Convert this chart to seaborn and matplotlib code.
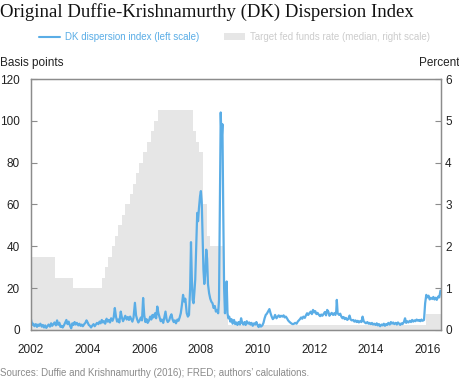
import numpy as np
import pandas as pd
import matplotlib
matplotlib.use("Agg")
import matplotlib.pyplot as plt
import seaborn as sns
from matplotlib.lines import Line2D
from matplotlib.patches import Patch

# DK dispersion index, basis points
dk_years = [
    2002.00, 2002.04, 2002.08, 2002.12, 2002.17, 2002.21, 2002.25, 2002.29, 2002.33, 2002.38, 2002.42, 2002.46,
    2002.50, 2002.54, 2002.58, 2002.62, 2002.67, 2002.71, 2002.75, 2002.79, 2002.83, 2002.88, 2002.92, 2002.96,
    2003.00, 2003.04, 2003.08, 2003.12, 2003.17, 2003.21, 2003.25, 2003.29, 2003.33, 2003.38, 2003.42, 2003.46,
    2003.50, 2003.54, 2003.58, 2003.62, 2003.67, 2003.71, 2003.75, 2003.79, 2003.83, 2003.88, 2003.92, 2003.96,
    2004.00, 2004.04, 2004.08, 2004.12, 2004.17, 2004.21, 2004.25, 2004.29, 2004.33, 2004.38, 2004.42, 2004.46,
    2004.50, 2004.54, 2004.58, 2004.62, 2004.67, 2004.71, 2004.75, 2004.79, 2004.83, 2004.88, 2004.92, 2004.96,
    2005.00, 2005.04, 2005.08, 2005.12, 2005.17, 2005.21, 2005.25, 2005.29, 2005.33, 2005.38, 2005.42, 2005.46,
    2005.50, 2005.54, 2005.58, 2005.62, 2005.67, 2005.71, 2005.75, 2005.79, 2005.83, 2005.88, 2005.92, 2005.96,
    2006.00, 2006.04, 2006.08, 2006.12, 2006.17, 2006.21, 2006.25, 2006.29, 2006.33, 2006.38, 2006.42, 2006.46,
    2006.50, 2006.54, 2006.58, 2006.62, 2006.67, 2006.71, 2006.75, 2006.79, 2006.83, 2006.88, 2006.92, 2006.96,
    2007.00, 2007.04, 2007.08, 2007.12, 2007.17, 2007.21, 2007.25, 2007.29, 2007.33, 2007.37, 2007.41, 2007.45,
    2007.50, 2007.54, 2007.58, 2007.62, 2007.65, 2007.68, 2007.71, 2007.74, 2007.77, 2007.80, 2007.83, 2007.87,
    2007.90, 2007.93, 2007.97, 2008.00, 2008.03, 2008.06, 2008.09, 2008.12, 2008.15, 2008.19, 2008.22, 2008.25,
    2008.29, 2008.33, 2008.37, 2008.41, 2008.45, 2008.49, 2008.53, 2008.57, 2008.61, 2008.64, 2008.67, 2008.70,
    2008.73, 2008.76, 2008.79, 2008.82, 2008.85, 2008.88, 2008.91, 2008.94, 2008.97,
    2009.00, 2009.04, 2009.08, 2009.12, 2009.17, 2009.21, 2009.25, 2009.29, 2009.33, 2009.38, 2009.42, 2009.46,
    2009.50, 2009.54, 2009.58, 2009.62, 2009.67, 2009.71, 2009.75, 2009.79, 2009.83, 2009.88, 2009.92, 2009.96,
    2010.00, 2010.04, 2010.08, 2010.12, 2010.17, 2010.21, 2010.25, 2010.29, 2010.33, 2010.38, 2010.42, 2010.46,
    2010.50, 2010.54, 2010.58, 2010.62, 2010.67, 2010.71, 2010.75, 2010.79, 2010.83, 2010.88, 2010.92, 2010.96,
    2011.00, 2011.04, 2011.08, 2011.12, 2011.17, 2011.21, 2011.25, 2011.29, 2011.33, 2011.38, 2011.42, 2011.46,
    2011.50, 2011.54, 2011.58, 2011.62, 2011.67, 2011.71, 2011.75, 2011.79, 2011.83, 2011.88, 2011.92, 2011.96,
    2012.00, 2012.04, 2012.08, 2012.12, 2012.17, 2012.21, 2012.25, 2012.29, 2012.33, 2012.38, 2012.42, 2012.46,
    2012.50, 2012.54, 2012.58, 2012.62, 2012.67, 2012.71, 2012.75, 2012.78, 2012.80, 2012.83, 2012.88, 2012.92,
    2012.96, 2013.00, 2013.04, 2013.08, 2013.12, 2013.17, 2013.21, 2013.25, 2013.29, 2013.33, 2013.38, 2013.42,
    2013.46, 2013.50, 2013.54, 2013.58, 2013.62, 2013.67, 2013.71, 2013.75, 2013.79, 2013.83, 2013.88, 2013.92,
    2013.96, 2014.00, 2014.04, 2014.08, 2014.12, 2014.17, 2014.21, 2014.25, 2014.29, 2014.33, 2014.38, 2014.42,
    2014.46, 2014.50, 2014.54, 2014.58, 2014.62, 2014.67, 2014.71, 2014.75, 2014.79, 2014.83, 2014.88, 2014.92,
    2014.96, 2015.00, 2015.04, 2015.08, 2015.12, 2015.17, 2015.21, 2015.25, 2015.29, 2015.33, 2015.38, 2015.42,
    2015.46, 2015.50, 2015.54, 2015.58, 2015.62, 2015.67, 2015.71, 2015.75, 2015.79, 2015.83, 2015.88, 2015.92,
    2015.96, 2016.00, 2016.04, 2016.08, 2016.12, 2016.17, 2016.21, 2016.25, 2016.29, 2016.33, 2016.38, 2016.42,
    2016.46,
]
dk_values = [
    5.0, 2.5, 3.0, 1.8, 2.8, 1.5, 2.6, 2.0, 3.0, 1.6, 2.4, 1.2,
    2.2, 1.0, 1.8, 2.6, 1.6, 3.2, 2.0, 2.8, 3.6, 2.2, 4.6, 2.5,
    3.5, 1.5, 2.0, 1.2, 2.4, 3.6, 4.8, 2.8, 4.0, 2.0, 0.8, 3.2,
    2.4, 3.8, 2.6, 3.4, 2.2, 3.0, 2.0, 2.6, 1.8, 2.8, 3.4, 4.6,
    3.6, 2.4, 2.0, 1.2, 2.2, 2.8, 1.8, 2.6, 3.4, 2.8, 4.0, 3.2,
    4.8, 3.6, 4.2, 3.0, 5.4, 4.0, 4.8, 3.6, 5.6, 4.4, 6.0, 10.5,
    6.5, 4.0, 5.0, 3.6, 8.8, 6.0, 4.2, 5.4, 6.8, 5.0, 6.2, 4.8,
    6.4, 5.2, 4.0, 5.8, 13.0, 7.0, 5.0, 3.6, 4.4, 6.0, 4.6, 15.3,
    7.0, 3.8, 5.2, 3.4, 4.6, 6.4, 5.0, 7.2, 6.0, 8.0, 5.6, 11.2,
    8.0, 6.0, 4.2, 5.0, 3.4, 6.0, 8.8, 5.0, 3.8, 4.6, 6.4, 7.5,
    5.0, 3.8, 4.6, 3.2, 5.0, 4.4, 6.0, 8.0, 12.0, 16.8, 13.6, 15.0,
    8.0, 6.4, 7.2, 20.0, 42.0, 25.0, 14.4, 12.8, 18.0, 24.0, 38.0, 56.0,
    52.0, 58.0, 64.0, 66.4, 61.0, 45.0, 28.8, 22.0, 26.0, 38.4, 34.0, 22.0,
    17.6, 15.0, 13.5, 12.8, 10.5, 11.5, 8.8, 9.6, 8.0, 14.4, 60.0, 104.0,
    90.0, 98.4, 56.0, 20.0, 8.0, 14.0, 23.2, 8.0, 5.6,
    6.4, 4.0, 5.2, 3.0, 4.8, 2.8, 3.6, 2.4, 3.8, 2.6, 5.6, 3.4,
    2.6, 3.8, 2.4, 4.2, 3.0, 3.6, 2.6, 3.4, 2.0, 3.2, 2.6, 3.8,
    2.4, 1.4, 2.6, 1.6, 2.2, 3.4, 5.6, 7.2, 7.8, 9.0, 10.0, 8.0,
    6.4, 5.2, 5.8, 7.2, 5.6, 6.4, 7.0, 6.2, 6.8, 6.4, 7.0, 6.0,
    6.4, 5.6, 4.6, 4.0, 3.4, 3.0, 2.8, 3.0, 3.4, 3.0, 4.0, 4.6,
    5.2, 6.0, 5.4, 6.4, 5.8, 7.0, 8.0, 7.2, 8.0, 8.8, 7.6, 9.6,
    8.4, 9.0, 7.6, 8.2, 7.2, 6.6, 7.4, 6.8, 7.6, 8.6, 7.0, 9.6,
    8.8, 6.8, 7.6, 8.2, 7.2, 8.0, 7.2, 9.0, 14.4, 8.0, 7.2, 7.8,
    6.4, 5.6, 6.2, 5.2, 5.8, 4.8, 5.4, 6.9, 5.0, 4.6, 4.8, 4.0,
    4.6, 3.8, 4.4, 3.6, 4.2, 3.8, 6.4, 4.2, 3.6, 3.2, 3.8, 3.0,
    3.4, 2.8, 3.4, 2.6, 3.0, 2.4, 3.2, 2.2, 2.8, 1.8, 2.6, 2.2,
    3.0, 2.0, 2.8, 2.4, 3.4, 2.6, 3.8, 3.0, 3.6, 2.8, 3.4, 2.6,
    3.6, 3.0, 2.4, 3.2, 2.8, 3.8, 5.6, 3.4, 4.2, 3.6, 4.4, 3.8,
    4.8, 4.0, 4.6, 4.2, 5.0, 4.4, 4.8, 4.2, 5.0, 4.4, 4.8, 12.8,
    16.8, 15.6, 16.4, 14.6, 15.4, 14.8, 15.8, 14.6, 15.4, 14.4, 16.0, 15.6,
    18.8,
]

# Target fed funds rate (median of range), percent, step changes
ff_years = [2002.00, 2002.85, 2003.48, 2004.49, 2004.61, 2004.72, 2004.86, 2004.95, 2005.09, 2005.22,
            2005.33, 2005.49, 2005.60, 2005.72, 2005.83, 2005.95, 2006.08, 2006.24, 2006.36, 2006.49,
            2007.71, 2007.83, 2007.94, 2008.06, 2008.08, 2008.21, 2008.33, 2008.77, 2008.82, 2008.96,
            2015.96, 2016.48]
ff_values = [1.75, 1.25, 1.00, 1.25, 1.50, 1.75, 2.00, 2.25, 2.50, 2.75,
             3.00, 3.25, 3.50, 3.75, 4.00, 4.25, 4.50, 4.75, 5.00, 5.25,
             4.75, 4.50, 4.25, 3.50, 3.00, 2.25, 2.00, 1.50, 1.00, 0.125,
             0.375, 0.375]

year_ticks = [2002, 2004, 2006, 2008, 2010, 2012, 2014, 2016]
left_ticks = [0, 20, 40, 60, 80, 100, 120]
right_ticks = [0, 1, 2, 3, 4, 5, 6]

BLUE = "#5aade6"
GREY_FILL = "#e6e6e6"
SPINE = "#8c8c8c"

sns.set_theme(style="white")
plt.rcParams["font.family"] = ["Liberation Sans", "DejaVu Sans"]

dk = pd.DataFrame({"year": dk_years, "dk": dk_values})

fig = plt.figure(figsize=(4.6, 3.8), dpi=100)
ax = fig.add_axes([0.0674, 0.1316, 0.8913, 0.6605])
ax2 = ax.twinx()

# fed funds shading on the right scale, kept behind the line
ax2.fill_between(ff_years, ff_values, step="post", color=GREY_FILL, linewidth=0)
ax2.set_ylim(0, 6)
ax2.set_yticks(right_ticks)

sns.lineplot(data=dk, x="year", y="dk", ax=ax, color=BLUE, linewidth=1.6)
ax.set_zorder(ax2.get_zorder() + 1)
ax.patch.set_visible(False)

ax.set_xlim(2002, 2016.48)
ax.set_ylim(0, 120)
ax.set_xticks(year_ticks)
ax.set_yticks(left_ticks)
ax.set_xlabel("")
ax.set_ylabel("")

for a in (ax, ax2):
    for s in a.spines.values():
        s.set_visible(True)
        s.set_color(SPINE)
        s.set_linewidth(0.9)
ax.tick_params(axis="both", direction="in", length=4, width=0.8, color=SPINE,
               labelsize=8.5, labelcolor="#222222")
ax.tick_params(axis="y", pad=8)
ax.tick_params(axis="x", pad=10)
ax2.tick_params(axis="y", direction="in", length=4, width=0.8, color=SPINE,
                labelsize=8.5, labelcolor="#222222", pad=3)

# title, axis units, source
fig.text(0.0, 0.968, "Original Duffie-Krishnamurthy (DK) Dispersion Index",
         family=["Liberation Serif", "DejaVu Serif"], fontsize=13.5, color="#111111",
         ha="left", va="center")
fig.text(0.0, 0.834, "Basis points", fontsize=8.5, color="#222222", ha="left", va="center")
fig.text(0.998, 0.834, "Percent", fontsize=8.5, color="#222222", ha="right", va="center")
fig.text(0.0, 0.018, "Sources: Duffie and Krishnamurthy (2016); FRED; authors\u2019 calculations.",
         fontsize=7, color="#8a8a8a", ha="left", va="center")

handles = [Line2D([], [], color=BLUE, linewidth=1.5),
           Patch(facecolor=GREY_FILL, edgecolor="none")]
labels = ["DK dispersion index (left scale)", "Target fed funds rate (median, right scale)"]
fig.legend(handles, labels, loc="center", bbox_to_anchor=(0.51, 0.903), ncol=2,
           frameon=False, fontsize=7, labelcolor=[BLUE, "#cccccc"],
           handlelength=2.2, handleheight=0.6, columnspacing=2.5, handletextpad=0.5)

fig.savefig("out.png", dpi=100)
